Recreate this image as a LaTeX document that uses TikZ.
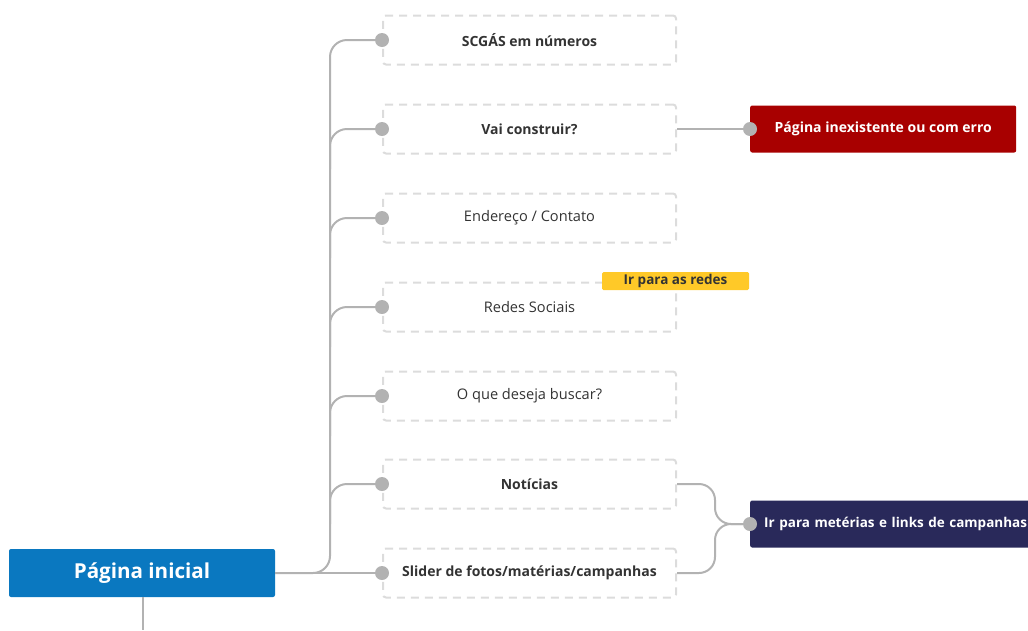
\documentclass[tikz,border=0pt]{standalone}
\usepackage{fontspec}
\setmainfont{Open Sans}
\usetikzlibrary{calc}
\definecolor{pageblue}{RGB}{10,120,192}
\definecolor{errred}{RGB}{168,0,0}
\definecolor{navy}{RGB}{41,41,90}
\definecolor{tagyellow}{RGB}{255,201,40}
\definecolor{wire}{RGB}{178,178,178}
\definecolor{dashgray}{RGB}{220,220,220}
\definecolor{ink}{RGB}{51,51,51}
\begin{document}
\begin{tikzpicture}[x=1pt,y=-1pt,
  wirestyle/.style={draw=wire,line width=2pt},
  pin/.style={circle,fill=wire,inner sep=0pt,minimum size=14pt},
  item/.style={draw=dashgray,line width=2pt,dash pattern=on 8pt off 6pt,rounded corners=3pt,
    minimum width=293pt,minimum height=49pt,inner sep=0pt,text=ink,font=\fontsize{14.6}{17}\selectfont},
  itembold/.style={item,font=\fontsize{14}{17}\selectfont\bfseries},
  solidbox/.style={rounded corners=2pt,inner sep=0pt,minimum height=47pt,text=white,
    font=\fontsize{14}{17}\selectfont\bfseries}]
\useasboundingbox (0,0) rectangle (1028,630);
\clip (0,0) rectangle (1028,630);

% root page
\node[solidbox,fill=pageblue,minimum width=266pt,minimum height=48pt,
  font=\fontsize{20.6}{24}\selectfont\bfseries] (home) at (142,573) {Página inicial};
\coordinate (below) at (143,630);
\draw[wirestyle] (home.south -| below) -- (below);

% page sections
\node[itembold] (s1) at (529.5,40) {SCGÁS em números};
\node[itembold] (s2) at (529.5,129) {Vai construir?};
\node[item] (s3) at (529.5,218) {Endereço / Contato};
\node[item] (s4) at (529.5,307) {Redes Sociais};
\node[item] (s5) at (529.5,396) {O que deseja buscar?};
\node[itembold] (s6) at (529.5,484) {Notícias};
\node[itembold] (s7) at (529.5,573) {Slider de fotos/matérias/campanhas};

% attachment pins on the sections
\foreach \i in {1,...,7} {\node[pin] (p\i) at (s\i.west) {};}

% trunk and branches
\coordinate (trunk) at (330,573);
\draw[wirestyle] (home.east) -- (p7);
\draw[wirestyle,rounded corners=17pt] (home.east) -- (trunk) -- (trunk |- p1) -- (p1);
\foreach \i in {2,...,6} {
  \draw[wirestyle,rounded corners=17pt] ($(trunk |- p\i)+(0,40)$) -- (trunk |- p\i) -- (p\i);
}

% targets
\node[solidbox,fill=errred,minimum width=266pt,anchor=west] (err) at (750,129) {Página inexistente ou com erro};
\node[pin] (pe) at (err.west) {};
\draw[wirestyle] (s2.east) -- (pe);

\node[solidbox,fill=navy,minimum width=300pt,anchor=west,text width=290pt,align=left,inner xsep=0pt,
  font=\fontsize{13.5}{17}\selectfont\bfseries] (news) at (750,524)
  {\hspace*{9pt}Ir para metérias e links de campanhas};
\node[pin] (pn) at (news.west) {};
\coordinate (merge) at (715,524);
\draw[wirestyle,rounded corners=16pt] (s6.east) -| (merge) -- (pn);
\draw[wirestyle,rounded corners=16pt] (s7.east) -| (merge) -- (pn);

% social tag
\node[fill=tagyellow,rounded corners=1.5pt,minimum width=147pt,minimum height=18pt,inner sep=0pt,
  text=ink,font=\fontsize{13.5}{15}\selectfont\bfseries] (tag) at (675.5,281) {Ir para as redes};
\end{tikzpicture}
\end{document}
